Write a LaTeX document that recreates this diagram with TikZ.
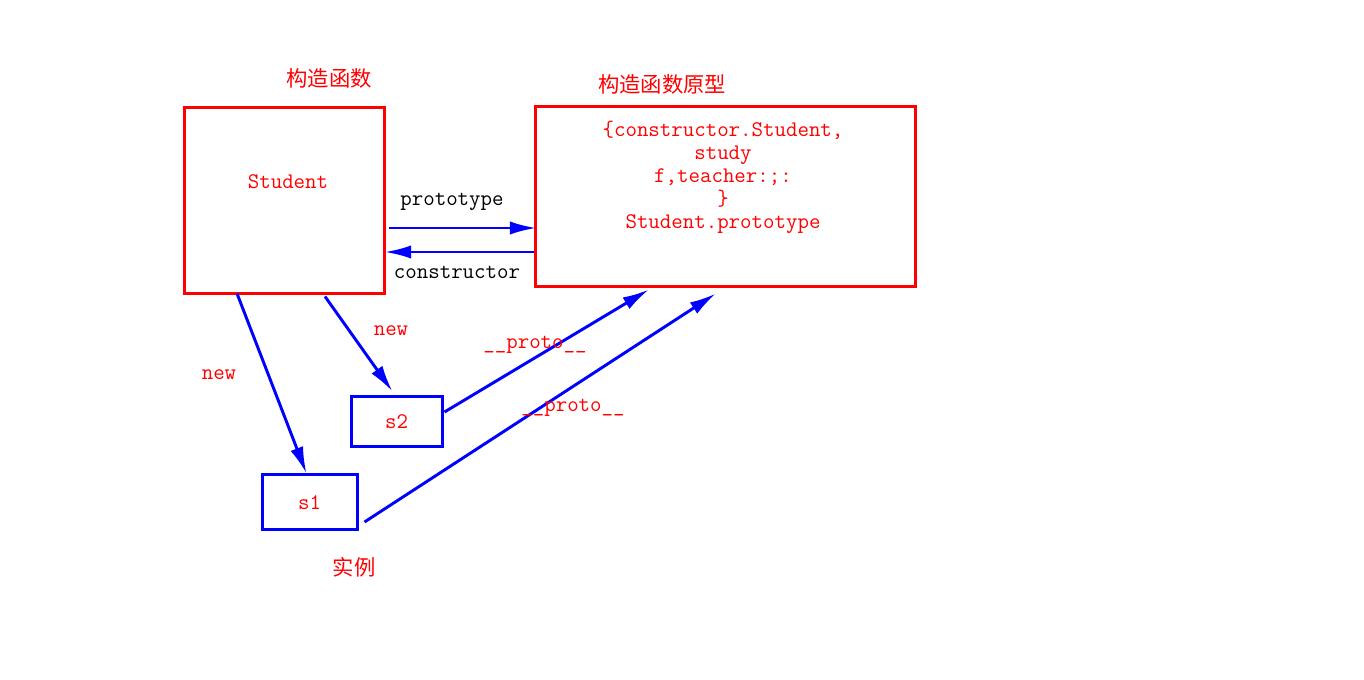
\documentclass[tikz,border=0pt]{standalone}
\usepackage{fontspec}
\newfontfamily\cjk{Noto Sans CJK SC}
\usetikzlibrary{arrows.meta,positioning,calc}

\begin{document}
\begin{tikzpicture}[x=0.75pt,y=-0.75pt,
    every node/.style={font=\fontsize{16.7}{17.25}\selectfont\ttfamily},
    redbox/.style={draw=red,line width=2.25pt,inner sep=0pt},
    bluebox/.style={draw=blue,line width=2.25pt,inner sep=0pt,text=red},
    link/.style={blue,line width=2.2pt,-{Latex[length=20pt,width=10pt]}},
    cn/.style={red,font=\fontsize{16}{18}\selectfont\cjk}]
    \useasboundingbox (0,0) rectangle (1364,680);

    \node[redbox,minimum width=150pt,minimum height=139.5pt] (stu) at (284,201) {};
    \node[red] (stutext) at (288,182) {Student};
    \node[cn] (stutitle) at (329,78) {构造函数};

    \node[redbox,minimum width=285pt,minimum height=135pt] (proto) at (725,197) {};
    \node[red,align=center] (prototext) at (723,177) {\{constructor.Student,\\study\\f,teacher:;:\\\}\\Student.prototype};
    \node[cn] (prototitle) at (662,84) {构造函数原型};

    \node[bluebox,minimum width=68.25pt,minimum height=37.5pt] (s2) at (396.5,422) {s2};
    \node[bluebox,minimum width=71.25pt,minimum height=41.25pt] (s1) at (309.5,502.5) {s1};
    \node[cn] (inst) at (354,567) {实例};

    % prototype / constructor
    \draw[link] ($(stu.east)+(3,27)$) -- ($(proto.west)+(3,31)$);
    \node (lblproto) at (452,202) {prototype};
    \draw[link] ($(proto.west)+(0,55)$) -- ($(stu.east)+(-1,51)$);
    \node (lblctor) at (457,272) {constructor};

    % new
    \draw[link] ($(stu.south)+(-47,-2)$) -- ($(s1.north)+(-3,0)$);
    \node[red] (lblnew1) at (219,375) {new};
    \draw[link] ($(stu.south)+(41,1)$) -- ($(s2.north)+(-4,-4)$);
    \node[red] (lblnew2) at (391,331) {new};

    % __proto__
    \draw[link] ($(s2.east)+(1,-10)$) -- ($(proto.south)+(-76,1)$);
    \node[red] (lblp2) at (535,345) {\_\_proto\_\_};
    \draw[link] ($(s1.east)+(6,19.5)$) -- ($(proto.south)+(-9,5)$);
    \node[red] (lblp1) at (573,408) {\_\_proto\_\_};
\end{tikzpicture}
\end{document}
